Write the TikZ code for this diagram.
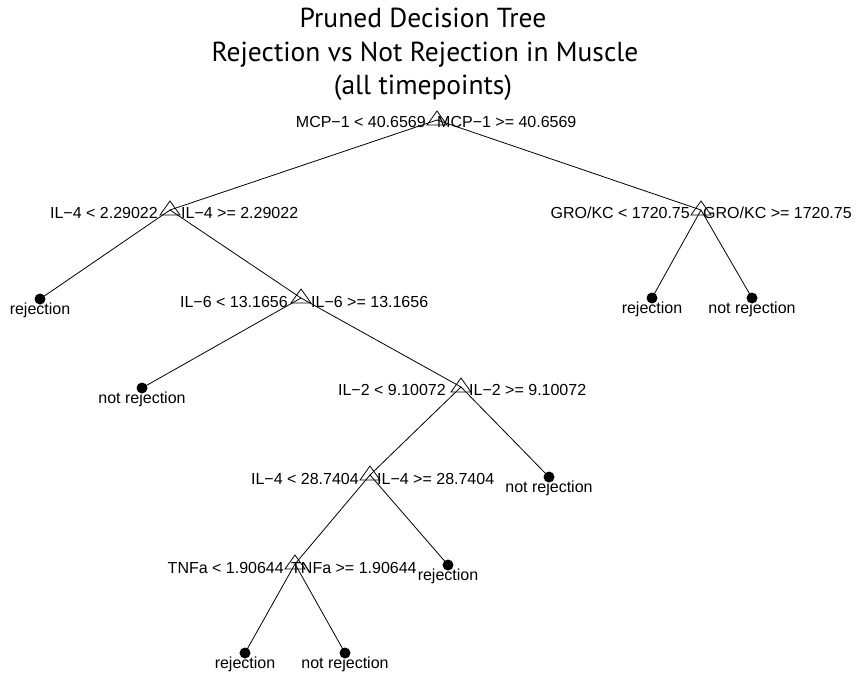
\documentclass[tikz,border=0pt]{standalone}
\usepackage{fontspec}
\setmainfont{Liberation Sans}
\newfontfamily\titlefont{PT Sans}
\begin{document}
\begin{tikzpicture}[x=1pt,y=-1pt,
  edge/.style={line width=0.8pt},
  tri/.style={draw, line width=0.8pt, line join=miter},
  leaf/.style={circle, fill=black, minimum size=11pt, inner sep=0pt},
  cond/.style={font=\fontsize{16}{19}\selectfont, inner sep=0pt},
  condL/.style={cond, anchor=base east},
  condR/.style={cond, anchor=base west},
  leaflab/.style={cond, anchor=base},
  titleline/.style={font=\titlefont\fontsize{27.5}{33}\selectfont, inner sep=0pt, anchor=base}]
\useasboundingbox (0,0) rectangle (860,677);

% title
\node[titleline] (t1) at (423,28) {Pruned Decision Tree};
\node[titleline] (t2) at (425,61.5) {Rejection vs Not Rejection in Muscle};
\node[titleline] (t3) at (423,95) {(all timepoints)};

% split points
\coordinate (root) at (437,120);
\coordinate (a) at (170,210);
\coordinate (g) at (701,210);
\coordinate (b) at (301,298);
\coordinate (c) at (461,387);
\coordinate (d) at (370,475);
\coordinate (e) at (295,564);

% leaves
\coordinate (l1) at (40,299);
\coordinate (l2) at (142,388);
\coordinate (l3) at (549,477);
\coordinate (l4) at (448,565);
\coordinate (l5) at (245,653);
\coordinate (l6) at (345,653);
\coordinate (l7) at (652,298);
\coordinate (l8) at (752,298);

% branches
\draw[edge] (root) -- (a);
\draw[edge] (root) -- (g);
\draw[edge] (a) -- (l1);
\draw[edge] (a) -- (b);
\draw[edge] (b) -- (l2);
\draw[edge] (b) -- (c);
\draw[edge] (c) -- (d);
\draw[edge] (c) -- (l3);
\draw[edge] (d) -- (e);
\draw[edge] (d) -- (l4);
\draw[edge] (e) -- (l5);
\draw[edge] (e) -- (l6);
\draw[edge] (g) -- (l7);
\draw[edge] (g) -- (l8);

% split markers
\foreach \p in {root,a,g,b,c,d,e}
  \draw[tri] (\p) +(-10,5) -- +(0,-9) -- +(10,5) -- cycle;

% leaf markers
\foreach \p in {l1,l2,l3,l4,l5,l6,l7,l8}
  \node[leaf] (\p dot) at (\p) {};

% split conditions
\node[condL] (rootL) at (426,128) {MCP−1 < 40.6569};
\node[condR] (rootR) at (437,128) {MCP−1 >= 40.6569};
\node[condL] (aL) at (158,218) {IL−4 < 2.29022};
\node[condR] (aR) at (181,218) {IL−4 >= 2.29022};
\node[condL] (gL) at (690,218) {GRO/KC < 1720.75};
\node[condR] (gR) at (703,218) {GRO/KC >= 1720.75};
\node[condL] (bL) at (288,307) {IL−6 < 13.1656};
\node[condR] (bR) at (311,307) {IL−6 >= 13.1656};
\node[condL] (cL) at (446,395) {IL−2 < 9.10072};
\node[condR] (cR) at (469,395) {IL−2 >= 9.10072};
\node[condL] (dL) at (359,484) {IL−4 < 28.7404};
\node[condR] (dR) at (377,484) {IL−4 >= 28.7404};
\node[condL] (eL) at (284,573) {TNFa < 1.90644};
\node[condR] (eR) at (291,573) {TNFa >= 1.90644};

% leaf classes
\node[leaflab] (l1lab) at ([yshift=-15pt]l1) {rejection};
\node[leaflab] (l2lab) at ([yshift=-15pt]l2) {not rejection};
\node[leaflab] (l3lab) at ([yshift=-15pt]l3) {not rejection};
\node[leaflab] (l4lab) at ([yshift=-15pt]l4) {rejection};
\node[leaflab] (l5lab) at ([yshift=-15pt]l5) {rejection};
\node[leaflab] (l6lab) at ([yshift=-15pt]l6) {not rejection};
\node[leaflab] (l7lab) at ([yshift=-15pt]l7) {rejection};
\node[leaflab] (l8lab) at ([yshift=-15pt]l8) {not rejection};
\end{tikzpicture}
\end{document}
